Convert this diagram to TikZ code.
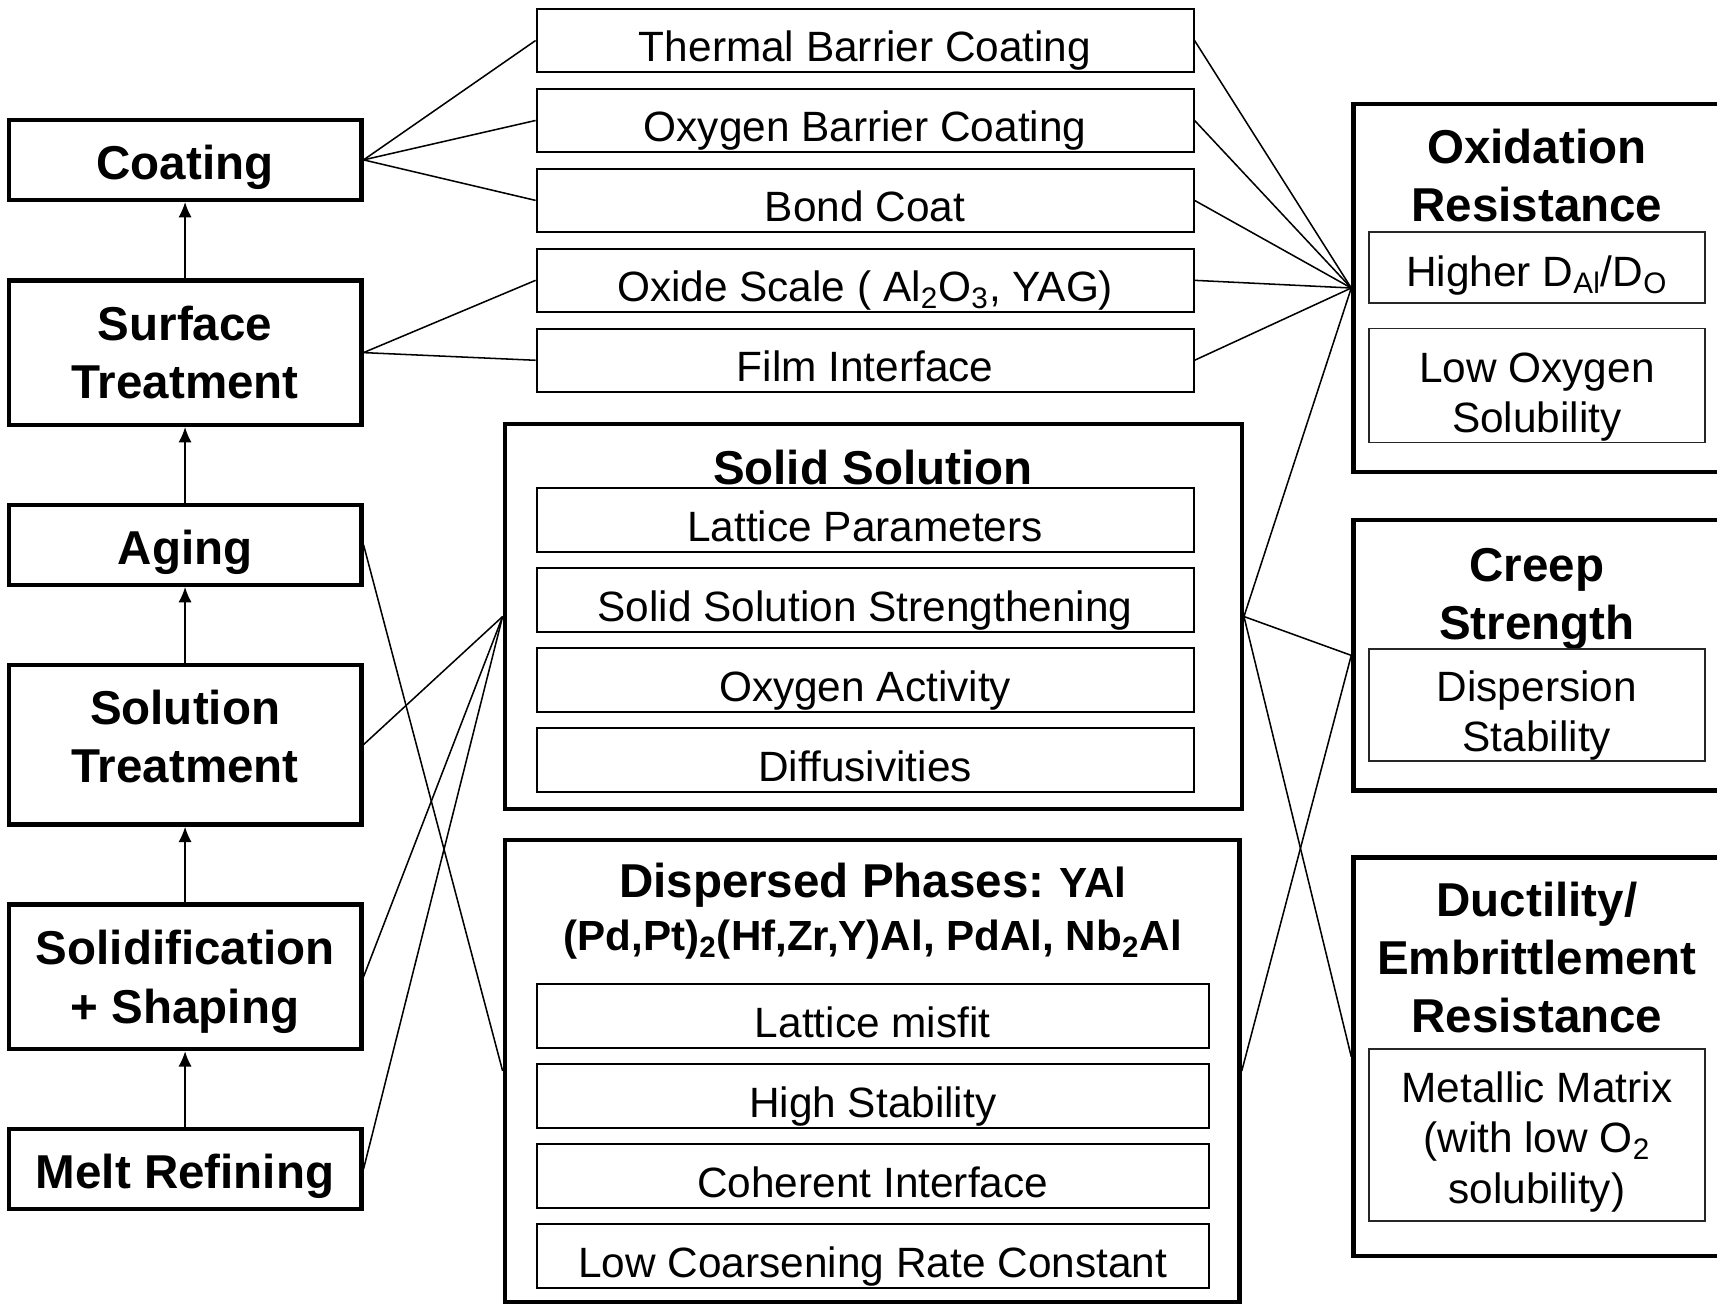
\documentclass[tikz,border=0pt]{standalone}
\usepackage{fontspec}
\setmainfont{Liberation Sans}
\usetikzlibrary{arrows.meta}

\begin{document}
\begin{tikzpicture}
[every node/.style={inner sep=0pt},
 stage/.style={draw, line width=2pt, minimum width=161pt, align=center, font=\fontsize{21.7pt}{26.5pt}\selectfont\bfseries},
 single/.style={text height=17.6pt, text depth=0pt},
 item/.style={draw, line width=0.9pt, minimum height=29pt, text height=19.5pt, text depth=0pt, font=\fontsize{19.35pt}{23pt}\selectfont},
 group/.style={draw, line width=2pt},
 heading/.style={align=center, font=\fontsize{21.7pt}{26.5pt}\selectfont\bfseries},
 detail/.style={draw=black!85, line width=0.8pt, minimum width=153.5pt, align=center, font=\fontsize{19.35pt}{23pt}\selectfont},
 link/.style={line width=0.7pt},
 flow/.style={line width=0.7pt, -{Latex[length=7pt,width=6pt]}}]
\clip (0pt, 0pt) rectangle (784pt, -595.5pt);
% processing route
\node (1) [stage, single, minimum height=36.5pt] at (84.5pt, -73pt) {Coating};
\node (2) [stage, minimum height=66pt] at (84.5pt, -161pt) {Surface\\Treatment};
\node (3) [stage, single, minimum height=36.5pt] at (84.5pt, -248.75pt) {Aging};
\node (4) [stage, minimum height=73pt] at (84.5pt, -340pt) {Solution\\Treatment\rule[-8pt]{0pt}{8pt}};
\node (5) [stage, minimum height=66pt] at (84.5pt, -446pt) {\rule{0pt}{20.3pt}Solidification\\+ Shaping};
\node (6) [stage, single, minimum height=36.5pt] at (84.5pt, -533.75pt) {Melt Refining};
% coatings and surface
\node (7) [item, minimum width=300pt] at (395pt, -18.5pt) {Thermal Barrier Coating};
\node (8) [item, minimum width=300pt] at (395pt, -55pt) {Oxygen Barrier Coating};
\node (9) [item, minimum width=300pt] at (395pt, -91.5pt) {Bond Coat};
\node (10) [item, minimum width=300pt] at (395pt, -128pt) {Oxide Scale ( Al\textsubscript{2}O\textsubscript{3}, YAG)};
\node (11) [item, minimum width=300pt] at (395pt, -164.5pt) {Film Interface};
% solid solution
\node (12) [group, minimum width=336.5pt, minimum height=176pt] at (398.75pt, -281.5pt) {};
\node (13) [heading] at (398.5pt, -213.5pt) {Solid Solution};
\node (14) [item, minimum width=300pt] at (395pt, -237.5pt) {Lattice Parameters};
\node (15) [item, minimum width=300pt] at (395pt, -274pt) {Solid Solution Strengthening};
\node (16) [item, minimum width=300pt] at (395pt, -310.5pt) {Oxygen Activity};
\node (17) [item, minimum width=300pt] at (395pt, -347pt) {Diffusivities};
% dispersed phases
\node (18) [group, minimum width=335.5pt, minimum height=211pt] at (398.25pt, -489pt) {};
\node (19) [heading, font=\fontsize{19.25pt}{24pt}\selectfont\bfseries] at (398.5pt, -416pt)
  {{\fontsize{21.7pt}{24pt}\selectfont Dispersed Phases:} YAl\\(Pd,Pt)\textsubscript{2}(Hf,Zr,Y)Al, PdAl, Nb\textsubscript{2}Al};
\node (20) [item, minimum width=307pt] at (398.5pt, -464pt) {Lattice misfit};
\node (21) [item, minimum width=307pt] at (398.5pt, -500.5pt) {High Stability};
\node (22) [item, minimum width=307pt] at (398.5pt, -537pt) {Coherent Interface};
\node (23) [item, minimum width=307pt] at (398.5pt, -573.5pt) {Low Coarsening Rate Constant};
% properties
\node (24) [group, minimum width=177pt, minimum height=168pt] at (706.5pt, -131.5pt) {};
\node (25) [heading] at (701.75pt, -80pt) {Oxidation\\Resistance};
\node (26) [detail, minimum height=32.5pt, text height=17.4pt, text depth=0pt] at (701.75pt, -122.25pt) {Higher D\textsubscript{Al}/D\textsubscript{O}};
\node (27) [detail, minimum height=52pt] at (701.75pt, -176pt) {\rule{0pt}{24.3pt}Low Oxygen\\Solubility};
\node (28) [group, minimum width=177pt, minimum height=123.5pt] at (706.5pt, -299.25pt) {};
\node (29) [heading] at (701.75pt, -270.5pt) {\rule{0pt}{20.9pt}Creep\\Strength};
\node (30) [detail, minimum height=50.5pt] at (701.75pt, -321.75pt) {\rule{0pt}{24.1pt}Dispersion\\Stability};
\node (31) [group, minimum width=177pt, minimum height=182pt] at (706.5pt, -482.5pt) {};
\node (32) [heading] at (701.75pt, -437pt) {Ductility/\\Embrittlement\\Resistance};
\node (33) [detail, minimum height=78.5pt] at (701.75pt, -518.25pt) {\rule{0pt}{20.2pt}Metallic Matrix\\(with low O\textsubscript{2}\\solubility)};
% route arrows
\draw [flow] (6) to (5);
\draw [flow] (5) to (4);
\draw [flow] (4) to (3);
\draw [flow] (3) to (2);
\draw [flow] (2) to (1);
% links
\draw [link] (1.east) to (7.west);
\draw [link] (1.east) to (8.west);
\draw [link] (1.east) to (9.west);
\draw [link] (2.east) to (10.west);
\draw [link] (2.east) to (11.west);
\draw [link] (3.east) to (18.west);
\draw [link] (4.east) to (12.west);
\draw [link] (5.east) to (12.west);
\draw [link] (6.east) to (12.west);
\draw [link] (7.east) to (24.west);
\draw [link] (8.east) to (24.west);
\draw [link] (9.east) to (24.west);
\draw [link] (10.east) to (24.west);
\draw [link] (11.east) to (24.west);
\draw [link] (12.east) to (24.west);
\draw [link] (12.east) to (28.west);
\draw [link] (12.east) to (31.west);
\draw [link] (18.east) to (28.west);
\end{tikzpicture}
\end{document}
